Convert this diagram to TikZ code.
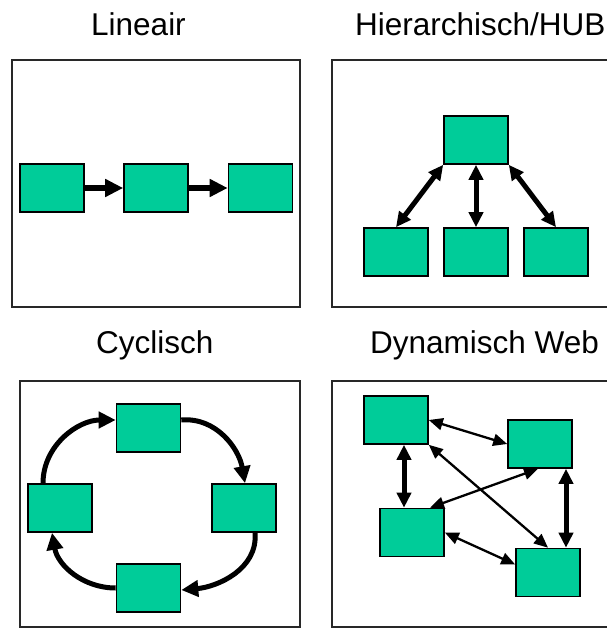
\documentclass[tikz,border=0pt]{standalone}
\usepackage{fontspec}
\setmainfont{Liberation Sans}
\usetikzlibrary{arrows.meta,calc}
\definecolor{boxgreen}{RGB}{0,204,153}
\definecolor{framegray}{RGB}{40,40,40}
\begin{document}
\begin{tikzpicture}[x=1pt,y=-1pt,
  panel/.style={draw=framegray,line width=2pt},
  unit/.style={draw=black,line width=1.6pt,fill=boxgreen,minimum width=64pt,
    minimum height=48pt,inner sep=0pt},
  title/.style={anchor=base west,inner sep=0pt,font=\fontsize{31.5}{36}\selectfont},
  bold arrow/.style={line width=5.5pt,-{Triangle[length=18pt,width=17pt]}},
  hub arrow/.style={line width=5pt,{Triangle[length=15pt,width=14pt]}-{Triangle[length=15pt,width=14pt]}},
  ring arrow/.style={line width=5pt,-{Triangle[length=17pt,width=16pt]}},
  thin link/.style={line width=2.3pt,{Triangle[length=14pt,width=12pt]}-{Triangle[length=14pt,width=12pt]}}]
\useasboundingbox (0,0) rectangle (606,628);
\fill[white] (0,0) rectangle (606,628);

% titles
\node[title] (t1) at (91,36) {Lineair};
\node[title] (t2) at (355,36) {Hierarchisch/HUB};
\node[title] (t3) at (96,353) {Cyclisch};
\node[title] (t4) at (370,353) {Dynamisch Web};

% panel frames
\draw[panel] (12,60) rectangle (300,307);
\draw[panel] (332,60) rectangle (612,307);
\draw[panel] (20,381) rectangle (300,627);
\draw[panel] (332,381) rectangle (612,627);

% linear chain
\node[unit] (l1) at (52,188) {};
\node[unit] (l2) at (156,188) {};
\node[unit] (l3) at (260.5,188) {};
\draw[bold arrow] (l1.east) -- (l2.west);
\draw[bold arrow] (l2.east) -- (l3.west);

% hub
\node[unit] (h0) at (476,140) {};
\node[unit] (h1) at (396,252) {};
\node[unit] (h2) at (476,252) {};
\node[unit] (h3) at (556,252) {};
\draw[hub arrow] (h0.south west) -- (h1.north);
\draw[hub arrow] (h0.south) -- (h2.north);
\draw[hub arrow] (h0.south east) -- (h3.north);

% cycle
\node[unit] (cT) at (148.5,428) {};
\node[unit] (cL) at (60,508) {};
\node[unit] (cR) at (244,508) {};
\node[unit] (cB) at (148.5,588) {};
\draw[ring arrow] ([yshift=8pt]cT.east) to[out=5,in=100] ([xshift=1pt]cR.north);
\draw[ring arrow] ([xshift=11pt]cR.south) to[out=-85,in=5] ([yshift=-2pt]cB.east);
\draw[ring arrow] (cB.west) to[out=180,in=-80] ([xshift=-8pt]cL.south);
\draw[ring arrow] ([xshift=-17pt]cL.north) to[out=90,in=180] ([yshift=8pt]cT.west);

% web
\node[unit] (wA) at (396,420) {};
\node[unit] (wB) at (540,444) {};
\node[unit] (wC) at (412,532.5) {};
\node[unit] (wD) at (548,572.5) {};
\draw[thin link] (wA.east) -- (wB.west);
\draw[thin link] ([xshift=18pt]wC.north) -- ([xshift=-2pt]wB.south);
\draw[thin link] (wA.south east) -- (wD.north);
\draw[thin link] (wC.east) -- ([yshift=8pt]wD.west);
\draw[hub arrow] ([xshift=8pt]wA.south) -- ([xshift=-8pt]wC.north);
\draw[hub arrow] ([xshift=26pt]wB.south) -- ([xshift=18pt]wD.north);
\end{tikzpicture}
\end{document}
